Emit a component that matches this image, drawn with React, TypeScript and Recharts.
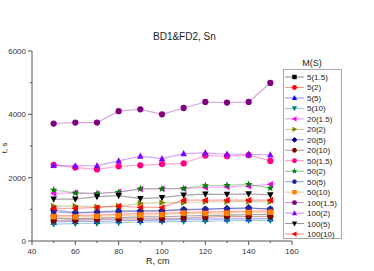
import React from 'react';
import { LineChart, Line, XAxis, YAxis } from 'recharts';

const radius = [50, 60, 70, 80, 90, 100, 110, 120, 130, 140, 150];

const m5_15 = [720, 700, 720, 740, 760, 760, 790, 800, 820, 830, 840];
const m5_2 = [800, 800, 820, 850, 870, 880, 900, 920, 930, 940, 950];
const m5_5 = [600, 620, 620, 640, 650, 660, 680, 690, 700, 700, 710];
const m5_10 = [530, 550, 560, 580, 600, 610, 620, 630, 640, 650, 650];
const m20_15 = [1500, 1520, 1500, 1550, 1640, 1650, 1650, 1690, 1710, 1730, 1790];
const m20_2 = [1100, 1100, 1080, 1100, 1190, 1210, 1210, 1240, 1240, 1250, 1240];
const m20_5 = [980, 900, 920, 950, 950, 950, 980, 1000, 1030, 1050, 1000];
const m20_10 = [650, 660, 680, 690, 700, 700, 720, 750, 780, 770, 780];
const m50_15 = [2400, 2320, 2260, 2360, 2390, 2430, 2450, 2700, 2680, 2710, 2530];
const m50_2 = [1610, 1520, 1500, 1540, 1650, 1650, 1660, 1750, 1760, 1790, 1670];
const m50_5 = [920, 880, 900, 920, 940, 960, 1000, 1010, 1020, 1030, 1020];
const m50_10 = [770, 760, 780, 800, 820, 830, 880, 870, 880, 900, 910];
const m100_15 = [3710, 3740, 3740, 4100, 4160, 4000, 4200, 4390, 4370, 4390, 4990];
const m100_2 = [2390, 2370, 2380, 2530, 2680, 2600, 2760, 2780, 2740, 2740, 2720];
const m100_5 = [1320, 1320, 1400, 1430, 1340, 1370, 1450, 1480, 1470, 1490, 1460];
const m100_10 = [1030, 1030, 1060, 1100, 1060, 1060, 1290, 1290, 1290, 1290, 1290];

const xTicks = [40, 50, 60, 70, 80, 90, 100, 110, 120, 130, 140, 150, 160];
const yTicks = [0, 1000, 2000, 3000, 4000, 5000, 6000];

const series = [
  { key: 's1', name: '5(1.5)', values: m5_15, color: '#000000', shape: 'square' },
  { key: 's2', name: '5(2)', values: m5_2, color: '#ff0000', shape: 'circle' },
  { key: 's3', name: '5(5)', values: m5_5, color: '#0000ff', shape: 'up' },
  { key: 's4', name: '5(10)', values: m5_10, color: '#008080', shape: 'down' },
  { key: 's5', name: '20(1.5)', values: m20_15, color: '#ff00ff', shape: 'left' },
  { key: 's6', name: '20(2)', values: m20_2, color: '#808000', shape: 'right' },
  { key: 's7', name: '20(5)', values: m20_5, color: '#000080', shape: 'diamond' },
  { key: 's8', name: '20(10)', values: m20_10, color: '#800000', shape: 'hexagon' },
  { key: 's9', name: '50(1.5)', values: m50_15, color: '#ff0080', shape: 'circle' },
  { key: 's10', name: '50(2)', values: m50_2, color: '#008000', shape: 'star' },
  { key: 's11', name: '50(5)', values: m50_5, color: '#2020a0', shape: 'pentagon' },
  { key: 's12', name: '50(10)', values: m50_10, color: '#ff8000', shape: 'square' },
  { key: 's13', name: '100(1.5)', values: m100_15, color: '#800080', shape: 'circle' },
  { key: 's14', name: '100(2)', values: m100_2, color: '#8000ff', shape: 'up' },
  { key: 's15', name: '100(5)', values: m100_5, color: '#000000', shape: 'down' },
  { key: 's16', name: '100(10)', values: m100_10, color: '#ff0000', shape: 'left' },
];

const data = radius.map((r, i) => {
  const row: Record<string, number> = { r };
  series.forEach((s) => {
    row[s.key] = s.values[i];
  });
  return row;
});

const FONT = '"Liberation Sans", Arial, sans-serif';
const AXIS = '#555';

function poly(cx: number, cy: number, pts: number[][]) {
  return pts.map(([x, y]) => `${cx + x},${cy + y}`).join(' ');
}

function marker(shape: string, cx: number, cy: number, color: string, s = 3.3) {
  switch (shape) {
    case 'square':
      return <rect x={cx - s * 0.85} y={cy - s * 0.85} width={s * 1.7} height={s * 1.7} fill={color} />;
    case 'circle':
      return <circle cx={cx} cy={cy} r={s * 0.95} fill={color} />;
    case 'up':
      return <polygon points={poly(cx, cy, [[0, -s * 1.1], [s, s * 0.8], [-s, s * 0.8]])} fill={color} />;
    case 'down':
      return <polygon points={poly(cx, cy, [[0, s * 1.1], [s, -s * 0.8], [-s, -s * 0.8]])} fill={color} />;
    case 'left':
      return <polygon points={poly(cx, cy, [[-s * 1.1, 0], [s * 0.8, -s], [s * 0.8, s]])} fill={color} />;
    case 'right':
      return <polygon points={poly(cx, cy, [[s * 1.1, 0], [-s * 0.8, -s], [-s * 0.8, s]])} fill={color} />;
    case 'diamond':
      return <polygon points={poly(cx, cy, [[0, -s * 1.1], [s * 1.1, 0], [0, s * 1.1], [-s * 1.1, 0]])} fill={color} />;
    case 'hexagon': {
      const pts = [0, 1, 2, 3, 4, 5].map((k) => {
        const a = (Math.PI / 3) * k;
        return [Math.cos(a) * s, Math.sin(a) * s];
      });
      return <polygon points={poly(cx, cy, pts)} fill={color} />;
    }
    case 'pentagon': {
      const pts = [0, 1, 2, 3, 4].map((k) => {
        const a = -Math.PI / 2 + ((2 * Math.PI) / 5) * k;
        return [Math.cos(a) * s, Math.sin(a) * s];
      });
      return <polygon points={poly(cx, cy, pts)} fill={color} />;
    }
    case 'star': {
      const pts = Array.from({ length: 10 }, (_, k) => {
        const a = -Math.PI / 2 + (Math.PI / 5) * k;
        const rr = k % 2 === 0 ? s * 1.2 : s * 0.5;
        return [Math.cos(a) * rr, Math.sin(a) * rr];
      });
      return <polygon points={poly(cx, cy, pts)} fill={color} />;
    }
    default:
      return <circle cx={cx} cy={cy} r={s} fill={color} />;
  }
}

const XTick = (props: any) => {
  const { payload } = props;
  const x = payload.coordinate;
  const major = payload.value % 20 === 0;
  return (
    <g>
      <line x1={x} x2={x} y1={241} y2={major ? 245 : 243} stroke={AXIS} strokeWidth={1} />
      {major && (
        <text x={x} y={254} textAnchor="middle" fontSize={8} fill="#333" fontFamily={FONT}>
          {payload.value}
        </text>
      )}
    </g>
  );
};

const YTick = (props: any) => {
  const { payload } = props;
  const y = payload.coordinate;
  const major = payload.value % 2000 === 0;
  return (
    <g>
      <line x1={major ? 28 : 30} x2={32} y1={y} y2={y} stroke={AXIS} strokeWidth={1} />
      {major && (
        <text x={26} y={y + 3} textAnchor="end" fontSize={8} fill="#333" fontFamily={FONT}>
          {payload.value}
        </text>
      )}
    </g>
  );
};

const LegendBox = () => (
  <svg width={70} height={200} style={{ position: 'absolute', left: 278, top: 52 }}>
    <text x={34} y={14} textAnchor="middle" fontSize={9} fill="#222" fontFamily={FONT}>
      M(S)
    </text>
    <rect x={5.5} y={17.5} width={58} height={169} fill="#fff" stroke="#aaa" strokeWidth={1} />
    {series.map((s, i) => {
      const y = 25 + i * 10.47;
      return (
        <g key={s.key}>
          <line x1={7} x2={26} y1={y} y2={y} stroke={s.color} strokeOpacity={0.45} strokeWidth={1} />
          {marker(s.shape, 16.5, y, s.color, 2.6)}
          <text x={29} y={y + 3} fontSize={8} fill="#222" fontFamily={FONT}>
            {s.name}
          </text>
        </g>
      );
    })}
  </svg>
);

export default function App() {
  return (
    <div style={{ position: 'absolute', left: 0, top: 0, width: 374, height: 271, background: '#fff', fontFamily: FONT }}>
      <LineChart width={374} height={271} data={data} margin={{ top: 51, right: 82, bottom: 0, left: 0 }}>
        <XAxis
          dataKey="r"
          type="number"
          domain={[40, 160]}
          ticks={xTicks}
          interval={0}
          height={30}
          tickLine={false}
          axisLine={{ stroke: AXIS }}
          tick={<XTick />}
        />
        <YAxis
          type="number"
          domain={[0, 6000]}
          ticks={yTicks}
          interval={0}
          width={32}
          tickLine={false}
          axisLine={{ stroke: AXIS }}
          tick={<YTick />}
        />
        {series.map((s) => (
          <Line
            key={s.key}
            dataKey={s.key}
            name={s.name}
            type="linear"
            stroke={s.color}
            strokeOpacity={0.35}
            strokeWidth={1.2}
            isAnimationActive={false}
            dot={(p: any) => <g key={`${s.key}-${p.index}`}>{marker(s.shape, p.cx, p.cy, s.color)}</g>}
            activeDot={false}
          />
        ))}
      </LineChart>
      <div style={{ position: 'absolute', left: 0, top: 31, width: 374, textAlign: 'center', fontSize: 10, color: '#222' }}>
        <span style={{ position: 'absolute', left: 153 }}>BD1&amp;FD2, Sn</span>
      </div>
      <div style={{ position: 'absolute', left: 146, top: 256, fontSize: 9, color: '#222' }}>R, cm</div>
      <svg width={12} height={271} style={{ position: 'absolute', left: 0, top: 0 }}>
        <text x={7} y={148} transform="rotate(-90 7 148)" textAnchor="middle" fontSize={8} fill="#222" fontFamily={FONT}>
          t, s
        </text>
      </svg>
      <LegendBox />
    </div>
  );
}
